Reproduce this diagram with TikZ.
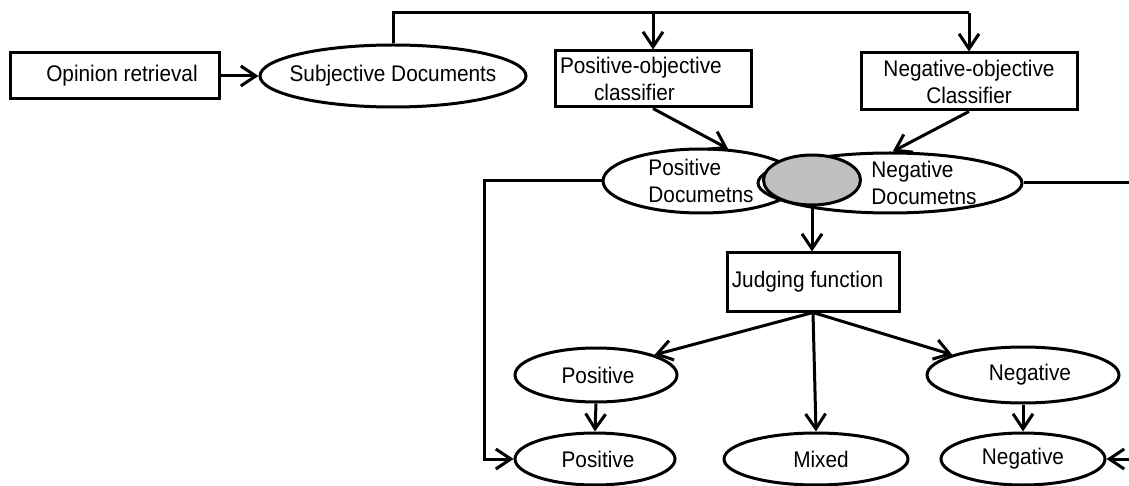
\documentclass[tikz,border=0pt]{standalone}
\usepackage{fontspec}
\setmainfont{Liberation Sans}[FakeStretch=0.92]
\usetikzlibrary{arrows.meta,shapes.geometric}
\begin{document}
\begin{tikzpicture}[x=1pt,y=-1pt,
  every node/.style={font=\fontsize{22.6}{27}\selectfont, inner sep=0pt},
  line/.style={line width=3pt},
  arr/.style={line, -{Straight Barb[length=15pt,width=20pt]}},
  procbox/.style={draw, line width=3pt, rectangle, align=center},
  oval/.style={draw, line width=3pt, ellipse},
  lbl/.style={align=left},
  ]
\useasboundingbox (0,0) rectangle (1129,486);

% process boxes
\node[procbox, minimum width=209pt, minimum height=46pt] (opinion) at (114.5,76) {\hspace*{15pt}Opinion retrieval};
\node[procbox, minimum width=196pt, minimum height=56pt, text width=186pt, align=left] (posobj) at (653,79) {Positive-objective\\\hspace*{34pt}classifier};
\node[procbox, minimum width=216pt, minimum height=57pt] (negobj) at (969,81.5) {Negative-objective\\Classifier};
\node[procbox, minimum width=172pt, minimum height=58pt] (judge) at (813,282) {Judging function\hspace*{11pt}};

% ellipses (outlines first, shaded overlap on top)
\node[oval, minimum width=266pt, minimum height=62pt] (subj) at (393,76) {};
\node[oval, minimum width=196pt, minimum height=64pt] (posdoc) at (701,181) {};
\node[oval, minimum width=264pt, minimum height=60pt] (negdoc) at (890,183) {};
\node[oval, fill={rgb,255:red,191;green,191;blue,191}, minimum width=97pt, minimum height=50pt] (gray) at (812,180) {};

\node[oval, minimum width=162pt, minimum height=54pt] (posup) at (596,375) {};
\node[oval, minimum width=192pt, minimum height=56pt] (negup) at (1023,375) {};
\node[oval, minimum width=160pt, minimum height=52pt] (poslow) at (595,459) {};
\node[oval, minimum width=184pt, minimum height=52pt] (mixed) at (816,459) {};
\node[oval, minimum width=164pt, minimum height=52pt] (neglow) at (1023,459) {};

% ellipse texts
\node (subjtext) at (subj.center) {Subjective Documents};
\node[lbl] (posdoctext) at (701,181) {Positive\\Documetns};
\node[lbl] (negdoctext) at (924,183) {Negative\\Documetns};
\node (poluptext) at (598,375) {Positive};
\node (neguptext) at (1030,375) {Negative};
\node (poslowtext) at (598,459) {Positive};
\node (mixedtext) at (821,459) {Mixed};
\node (neglowtext) at (1023,459) {Negative};

% rails
\coordinate (toprail) at (0,13);
\coordinate (leftrail) at (484,0);
\coordinate (rightedge) at (1129,0);

% connectors
\draw[arr] (opinion.east) -- (subj.west);
\draw[line] (subj.north) |- (negobj.north |- toprail);
\draw[arr] (posobj.north |- toprail) -- (posobj.north);
\draw[arr] (negobj.north |- toprail) -- (negobj.north);
\draw[arr] (posobj.south) -- (posdoc.50);
\draw[arr] (negobj.south) -- (negdoc.85);
\draw[arr] (gray.south) -- (gray.south |- judge.north);
\draw[arr] (judge.south) -- (posup.19);
\draw[arr] (judge.south) -- (mixed.north);
\draw[arr] (judge.south) -- (negup.164);
\draw[arr] (posup.south) -- (poslow.north);
\draw[arr] (negup.south) -- (neglow.north);
\draw[arr] (posdoc.west) -- (posdoc.west -| leftrail) |- (poslow.west);
\draw[line] (negdoc.east) -- (negdoc.east -| rightedge);
\draw[arr] (neglow.east -| rightedge) -- (neglow.east);
\end{tikzpicture}
\end{document}
